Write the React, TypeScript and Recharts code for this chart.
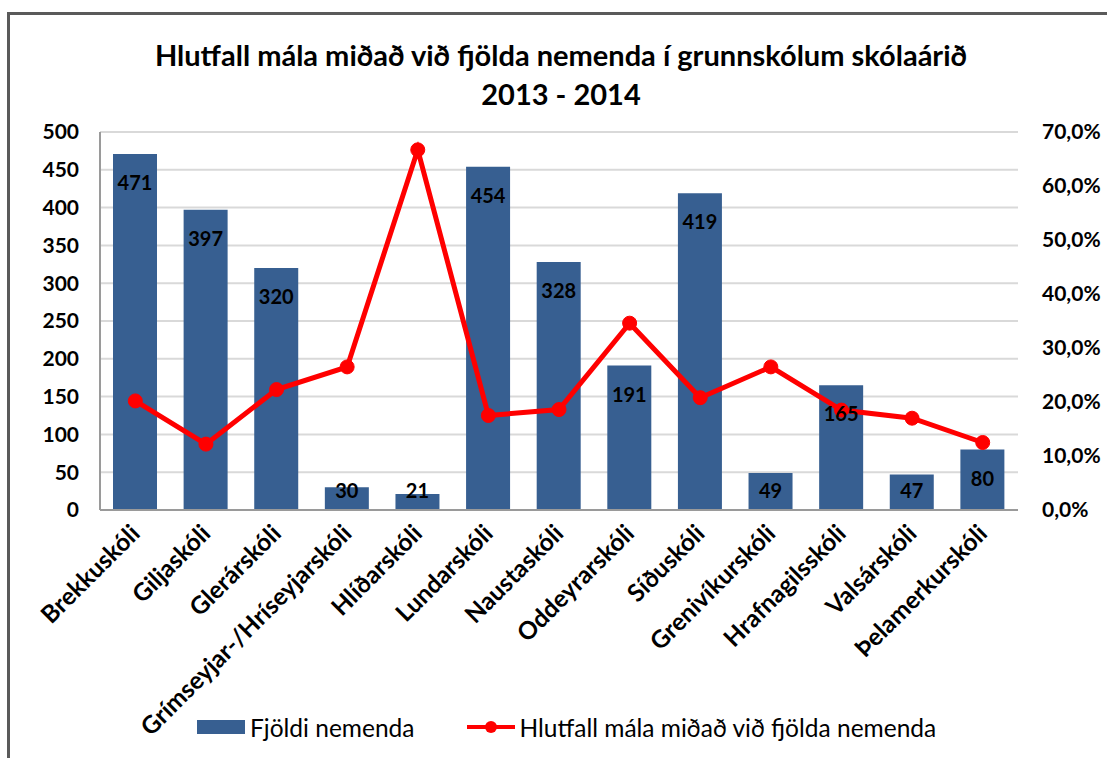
import { ComposedChart, Bar, Line, XAxis, YAxis, CartesianGrid, LabelList } from 'recharts';

const schools = [
  'Brekkuskóli',
  'Giljaskóli',
  'Glerárskóli',
  'Grímseyjar-/Hríseyjarskóli',
  'Hlíðarskóli',
  'Lundarskóli',
  'Naustaskóli',
  'Oddeyrarskóli',
  'Síðuskóli',
  'Grenivíkurskóli',
  'Hrafnagilsskóli',
  'Valsárskóli',
  'Þelamerkurskóli',
];
const students = [471, 397, 320, 30, 21, 454, 328, 191, 419, 49, 165, 47, 80];
const caseShare = [20.2, 12.2, 22.3, 26.5, 66.7, 17.5, 18.6, 34.6, 20.8, 26.5, 18.5, 17.0, 12.5];

const leftTicks = [0, 50, 100, 150, 200, 250, 300, 350, 400, 450, 500];
const rightTicks = [0, 10, 20, 30, 40, 50, 60, 70];

const FONT = 'Lato, "Open Sans", sans-serif';
const BLUE = '#375f91';
const RED = '#ff0000';

const chartData = schools.map((name, i) => ({
  name,
  students: students[i],
  share: caseShare[i],
}));

const XTick = ({ x, y, payload }: any) => (
  <g transform={`translate(${x + 6},${y + 17})`}>
    <text
      x={0}
      y={0}
      transform='rotate(-45)'
      textAnchor='end'
      fontFamily={FONT}
      fontWeight={700}
      fontSize={24.5}
      fill='#000'
    >
      {payload.value}
    </text>
  </g>
);

const BarValue = (props: any) => {
  const { x, y, width, height, value } = props;
  // inside end, but never below the base of the bar
  const cy = Math.min(y + 28, y + height - 20);
  return (
    <text
      x={x + width / 2}
      y={cy}
      textAnchor='middle'
      dominantBaseline='central'
      fontFamily={FONT}
      fontWeight={700}
      fontSize={20}
      fill='#000'
    >
      {value}
    </text>
  );
};

const pct = (v: number) => `${v.toFixed(1).replace('.', ',')}%`;

export default function App() {
  return (
    <div
      style={{
        position: 'absolute',
        left: 0,
        top: 0,
        width: 1107,
        height: 758,
        overflow: 'hidden',
        background: '#fff',
      }}
    >
      <div
        style={{
          position: 'absolute',
          left: 7,
          top: 12,
          width: 1097,
          height: 743,
          borderLeft: '3px solid #5a5a5a',
          borderTop: '3px solid #5a5a5a',
        }}
      />
      <div
        style={{
          position: 'absolute',
          left: 0,
          top: 35,
          width: 1122,
          textAlign: 'center',
          fontFamily: FONT,
          fontWeight: 700,
          fontSize: 29,
          lineHeight: '39px',
          color: '#000',
        }}
      >
        Hlutfall mála miðað við fjölda nemenda í grunnskólum skólaárið
        <br />
        2013 - 2014
      </div>

      <ComposedChart
        width={1107}
        height={758}
        data={chartData}
        margin={{ top: 132, right: 0, bottom: 48, left: 0 }}
      >
        <CartesianGrid vertical={false} stroke='#d9d9d9' strokeWidth={2} yAxisId='left' />
        <XAxis
          dataKey='name'
          interval={0}
          height={200}
          tick={<XTick />}
          tickLine={false}
          axisLine={{ stroke: '#9a9a9a', strokeWidth: 2 }}
        />
        <YAxis
          yAxisId='left'
          orientation='left'
          width={100}
          domain={[0, 500]}
          ticks={leftTicks}
          interval={0}
          tickLine={false}
          tickSize={0}
          tickMargin={21}
          axisLine={{ stroke: '#9a9a9a', strokeWidth: 2 }}
          tick={{ fontFamily: FONT, fontWeight: 700, fontSize: 21, fill: '#000' }}
        />
        <YAxis
          yAxisId='right'
          orientation='right'
          width={89}
          domain={[0, 70]}
          ticks={rightTicks}
          interval={0}
          tickFormatter={pct}
          tickLine={false}
          tickSize={0}
          tickMargin={24}
          axisLine={false}
          tick={{ fontFamily: FONT, fontWeight: 700, fontSize: 21, fill: '#000', textAnchor: 'start' }}
        />
        <Bar yAxisId='left' dataKey='students' fill={BLUE} barSize={44} isAnimationActive={false}>
          <LabelList dataKey='students' content={<BarValue />} />
        </Bar>
        <Line
          yAxisId='right'
          dataKey='share'
          stroke={RED}
          strokeWidth={5}
          dot={{ r: 7, fill: RED, stroke: RED, strokeWidth: 1 }}
          isAnimationActive={false}
        />
      </ComposedChart>

      <div
        style={{
          position: 'absolute',
          left: 197,
          top: 712,
          height: 30,
          display: 'flex',
          alignItems: 'center',
          fontFamily: FONT,
          fontSize: 24.5,
          color: '#000',
        }}
      >
        <span style={{ width: 48, height: 14, background: BLUE, display: 'inline-block' }} />
        <span style={{ marginLeft: 5 }}>Fjöldi nemenda</span>
        <span
          style={{
            marginLeft: 52,
            width: 48,
            height: 14,
            position: 'relative',
            display: 'inline-block',
          }}
        >
          <span style={{ position: 'absolute', left: 0, top: 5, width: 48, height: 4, background: RED }} />
          <span
            style={{
              position: 'absolute',
              left: 18,
              top: 1,
              width: 12,
              height: 12,
              borderRadius: 6,
              background: RED,
            }}
          />
        </span>
        <span style={{ marginLeft: 5 }}>Hlutfall mála miðað við fjölda nemenda</span>
      </div>
    </div>
  );
}
